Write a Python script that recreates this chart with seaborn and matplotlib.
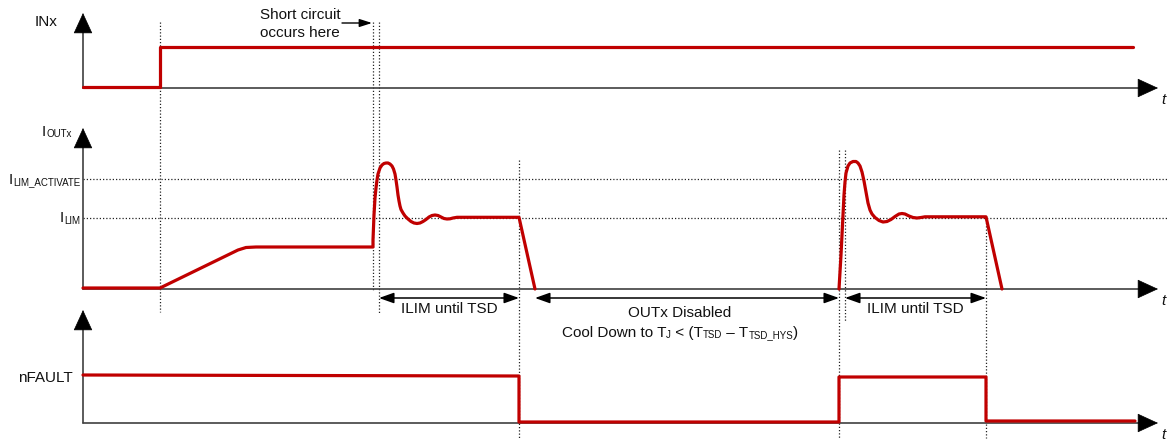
import matplotlib
matplotlib.use('Agg')
import matplotlib.pyplot as plt
import seaborn as sns
import pandas as pd

sns.set_theme(style='white')
plt.rcParams['font.family'] = ['Liberation Sans', 'DejaVu Sans']
plt.rcParams['text.color'] = '#111111'

RED = '#C00000'
AXC = '#404040'
DOT = (0, (1, 1.6))
FS = 11
FS_SUB = 7

# ---- data (time axis in diagram units, levels in diagram units) ----
inx_t = [83, 160, 160, 1133]
inx_v = [87, 87, 47, 47]

iout1_t = [83, 160, 238, 246, 256, 373, 373, 374, 375, 376, 377, 378, 380, 382, 384, 386,
           388, 390, 392, 393.5, 395, 396, 397, 398, 399, 400, 401, 403, 405, 408, 411,
           414, 417, 420, 423, 426, 429, 432, 435, 438, 441, 444, 447, 450, 453, 457,
           519, 535]
iout1_v = [288, 288, 250, 247.5, 247, 247, 240, 215, 198, 188, 180, 174, 168, 165, 163.5, 163,
           163, 164, 166, 169, 174, 180, 187, 195, 201, 206, 209.5, 213, 216, 219, 221.5,
           223, 223.5, 223, 221.5, 219.5, 217, 215.5, 215, 215.5, 217, 218.5, 219, 218.8, 218, 217.3,
           217.3, 289]

iout2_t = [839, 841, 843, 844, 845, 846, 848, 850, 853, 856, 858, 860, 862, 864, 866, 868,
           870, 872, 875, 879, 883, 887, 891, 895, 899, 902, 905, 909, 913, 917, 921, 925,
           986, 1002]
iout2_v = [289, 255, 215, 195, 182, 173, 166, 163, 161.5, 161.5, 163, 166, 172, 181, 192, 203,
           210, 214, 217.5, 220.5, 222, 221.5, 219.5, 216.5, 214, 213.5, 214, 216, 217.5, 218, 217.5, 216.8,
           216.8, 289]

nf_t = [83, 519, 519, 839, 839, 986, 986, 1135]
nf_v = [375, 376, 422, 422, 377, 377, 421, 421]

panel_base = [88, 289, 423]
panel_top = [13, 128, 310]
ilim_levels = [179, 218]
ilim_subs = ['LIM_ACTIVATE', 'LIM']

event_t = [160, 373, 379, 519, 839, 845, 986]
event_y0 = [22, 22, 22, 160, 150, 150, 216]
event_y1 = [312, 290, 314, 438, 438, 322, 438]

spans = [(379, 519, 'ILIM until TSD'), (535, 839, None), (845, 986, 'ILIM until TSD')]

frames = []
for name, t, v in [('INx', inx_t, inx_v), ('IOUT1', iout1_t, iout1_v),
                   ('IOUT2', iout2_t, iout2_v), ('nFAULT', nf_t, nf_v)]:
    frames.append(pd.DataFrame({'t': t, 'v': v, 'sig': name}))
df = pd.concat(frames, ignore_index=True)

fig = plt.figure(figsize=(11.69, 4.41), dpi=100)
ax = fig.add_axes([0, 0, 1, 1])
renderer = fig.canvas.get_renderer()


def rich(x, y, parts, ha='left'):
    """parts: list of (text, is_sub). y is the main baseline (diagram units)."""
    objs = []
    for s, sub in parts:
        t = ax.text(0, 0, s, fontsize=FS_SUB if sub else FS, ha='left', va='baseline')
        objs.append((t, sub))
    ws = [t.get_window_extent(renderer).width for t, _ in objs]
    total = sum(ws)
    x0 = x - total if ha == 'right' else (x - total / 2 if ha == 'center' else x)
    for (t, sub), w in zip(objs, ws):
        t.set_position((x0, y + (1.2 if sub else 0)))
        x0 += w


ax.set_xlim(0, 1169)
ax.set_ylim(441, 0)
ax.axis('off')

# dotted guides
ax.hlines(ilim_levels, 83, 1169, colors='#222222', linestyles=DOT, lw=0.9, zorder=1)
ax.vlines(event_t, event_y0, event_y1, colors='#222222', linestyles=DOT, lw=0.9, zorder=1)

# axes with arrows
for b, tp in zip(panel_base, panel_top):
    ax.plot([83, 83], [b, tp + 17], color=AXC, lw=1.2, zorder=2)
    ax.plot([83, 1140], [b, b], color=AXC, lw=1.2, zorder=2)
    ax.annotate('', xy=(83, tp), xytext=(83, tp + 19),
                arrowprops=dict(arrowstyle='-|>,head_length=13.7,head_width=6.3',
                                mutation_scale=1, color='black', lw=0.5,
                                shrinkA=0, shrinkB=0), zorder=3)
    ax.annotate('', xy=(1158, b), xytext=(1139, b),
                arrowprops=dict(arrowstyle='-|>,head_length=13.7,head_width=6.3',
                                mutation_scale=1, color='black', lw=0.5,
                                shrinkA=0, shrinkB=0), zorder=3)
    ax.text(1163, b + 12, 't', fontsize=FS, style='italic', ha='center', va='center')

# signals
for sig in ['INx', 'IOUT1', 'IOUT2', 'nFAULT']:
    sub = df[df.sig == sig]
    sns.lineplot(data=sub, x='t', y='v', sort=False, estimator=None, color=RED,
                 lw=2.3, ax=ax, zorder=4, legend=False)
ax.set_xlim(0, 1169)
ax.set_ylim(441, 0)
ax.axis('off')

# span arrows
for a, b, lab in spans:
    ax.annotate('', xy=(b, 298), xytext=(a, 298),
                arrowprops=dict(arrowstyle='<|-|>,head_length=9,head_width=3.2',
                                mutation_scale=1, color='black', lw=1.1,
                                shrinkA=0, shrinkB=0))
    if lab:
        ax.text((a + b) / 2, 309, lab, fontsize=FS, ha='center', va='center')

ax.text(680, 313, 'OUTx Disabled', fontsize=FS, ha='center', va='center')
rich(680, 337, [('Cool Down to T', False), ('J', True), (' < (T', False), ('TSD', True),
                (' \u2013 T', False), ('TSD_HYS', True), (')', False)], ha='center')

# short circuit note
ax.text(300, 15, 'Short circuit', fontsize=FS, ha='center', va='center')
ax.text(300, 33, 'occurs here', fontsize=FS, ha='center', va='center')
ax.annotate('', xy=(372, 23), xytext=(342, 23),
            arrowprops=dict(arrowstyle='-|>,head_length=7.5,head_width=2.4',
                            mutation_scale=1, color='black', lw=1.0,
                            shrinkA=0, shrinkB=0))

# signal labels
ax.text(46, 22, 'INx', fontsize=FS, ha='center', va='center')
rich(42, 136, [('I', False), ('OUTx', True)], ha='left')
for lv, s in zip(ilim_levels, ilim_subs):
    rich(80, lv + 4.5, [('I', False), (s, True)], ha='right')
ax.text(45, 378, 'nFAULT', fontsize=FS, ha='center', va='center')

fig.savefig('out.png', dpi=100)
